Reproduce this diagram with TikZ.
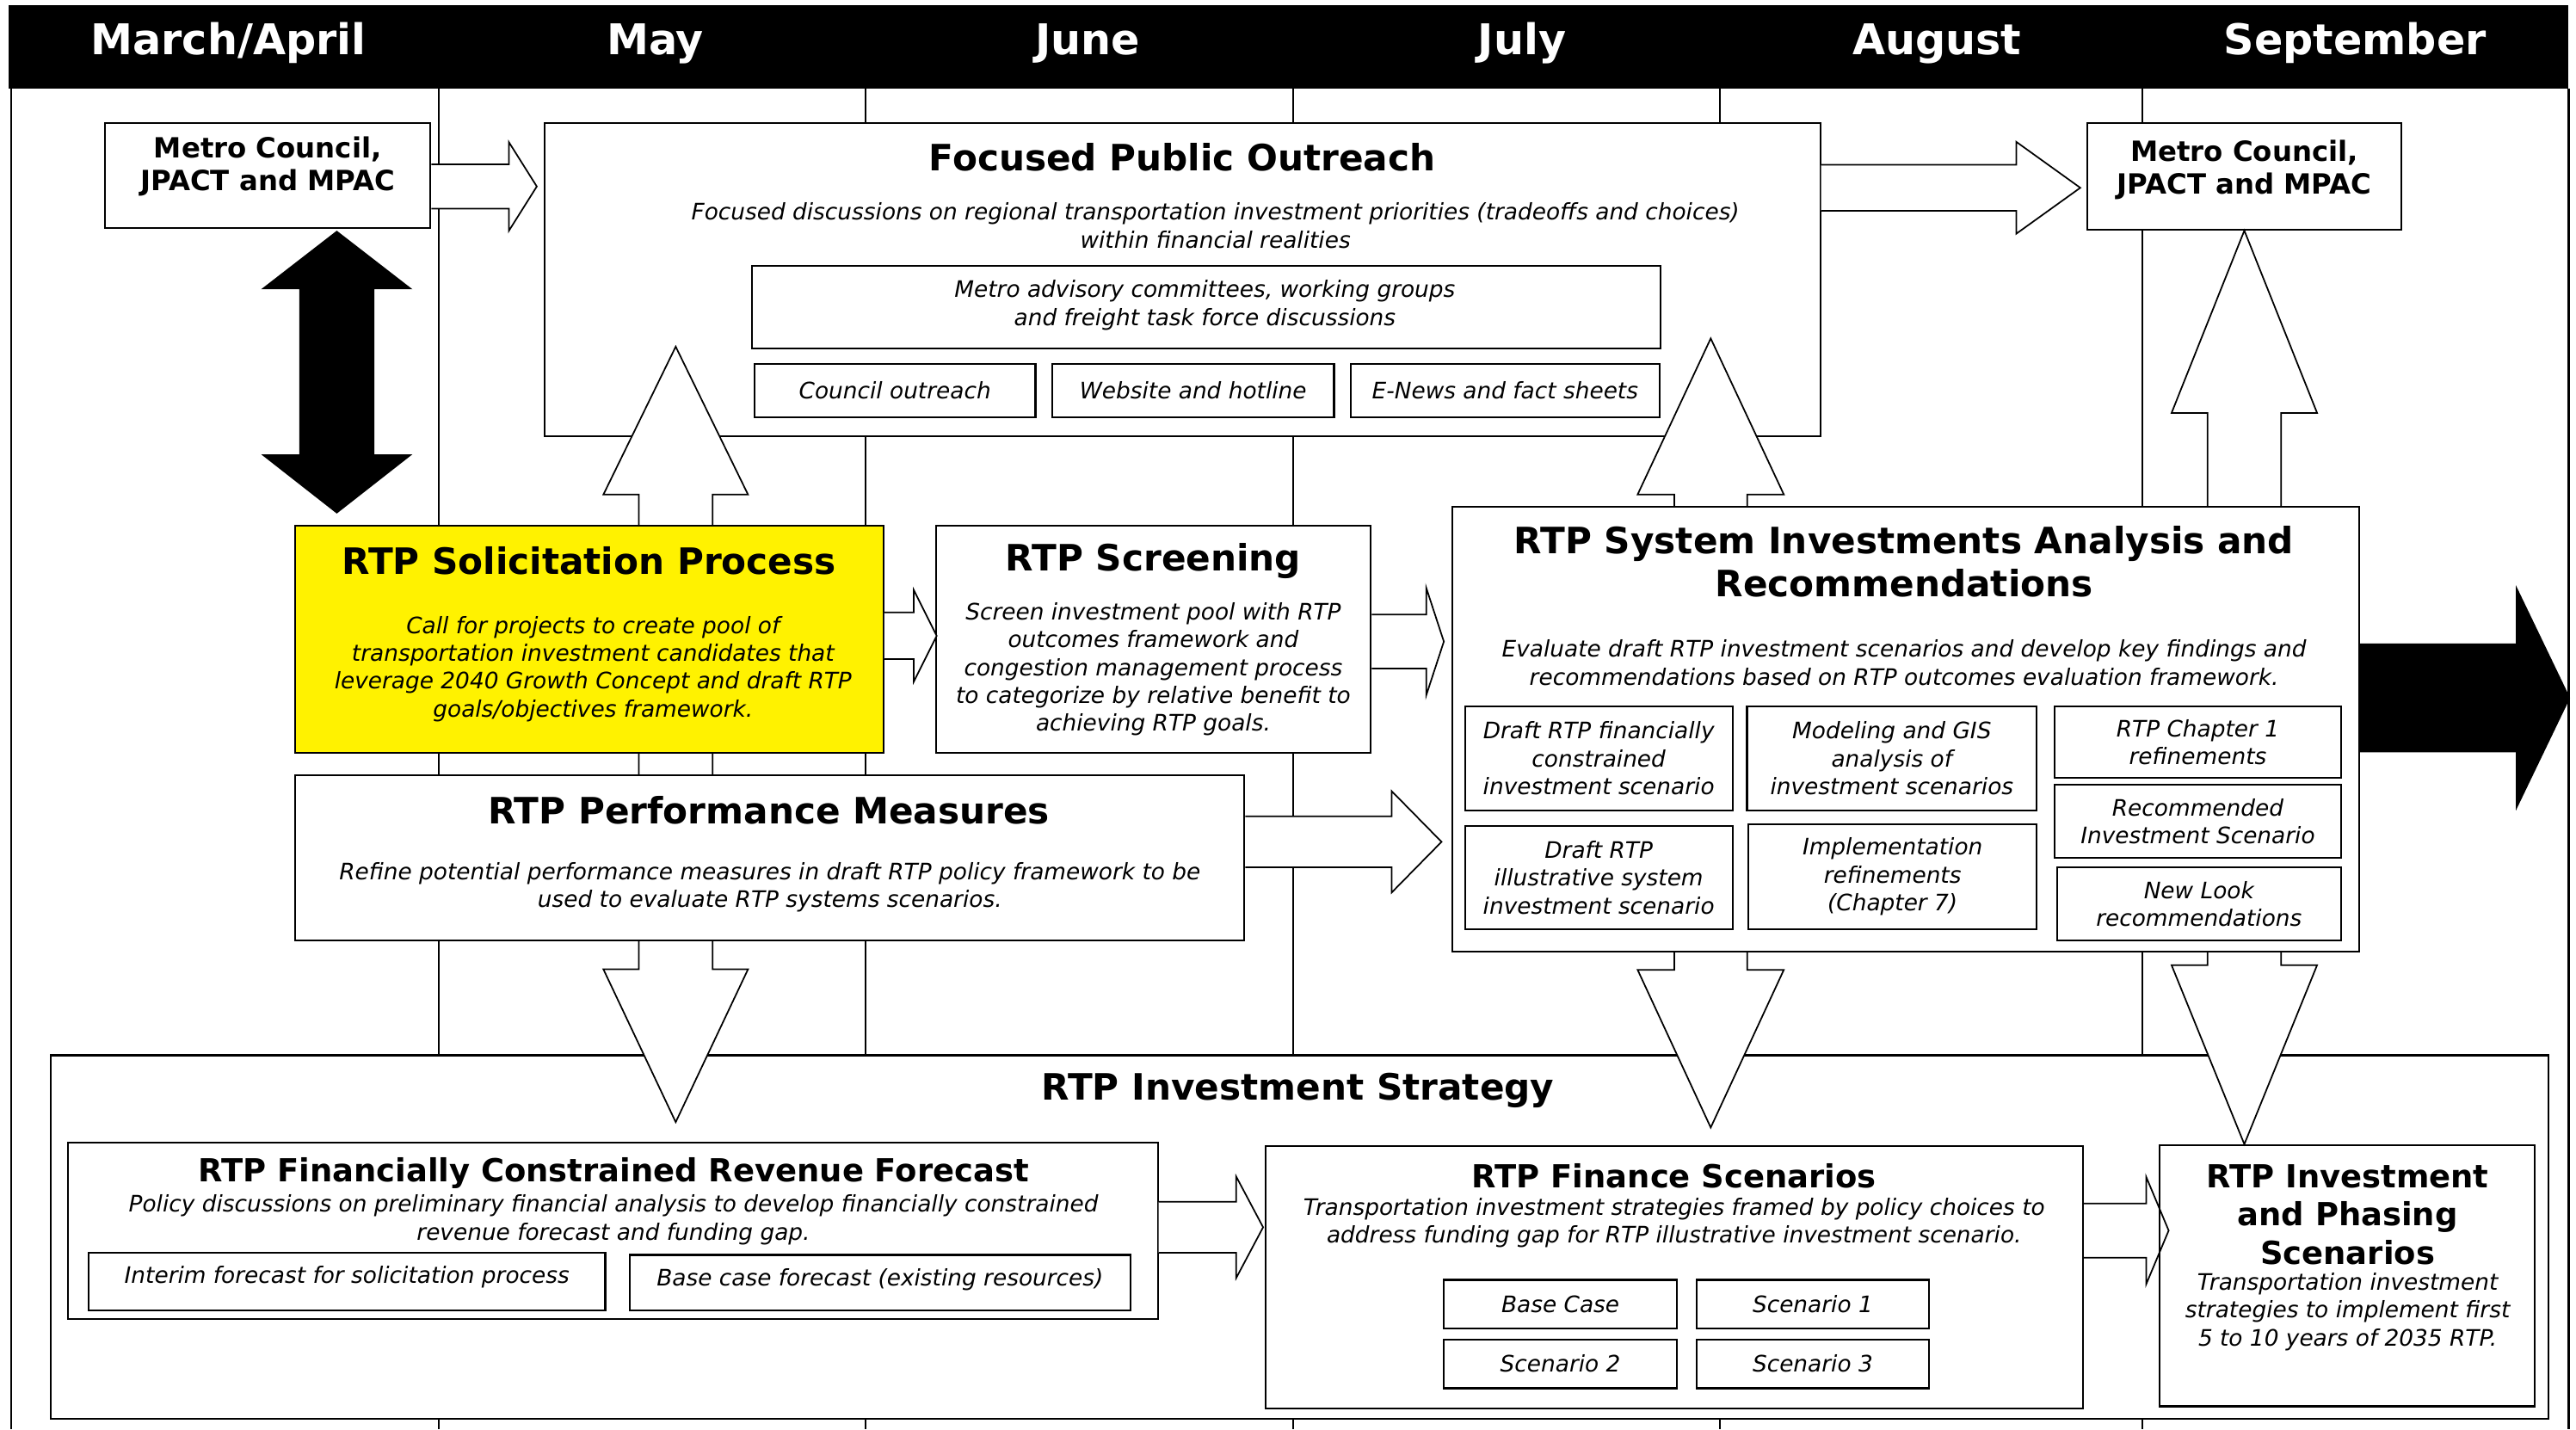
\documentclass[tikz,border=0pt]{standalone}
\usepackage{fontspec}
\setmainfont{DejaVu Sans}[BoldFont={DejaVu Sans Bold},ItalicFont={DejaVu Sans Oblique},BoldItalicFont={DejaVu Sans Bold Oblique}]
\usetikzlibrary{calc,fit}

\tikzset{
  hdrtext/.style={text=white, anchor=base, font=\fontsize{14}{17}\selectfont\bfseries},
  bigtitle/.style={align=center, font=\fontsize{12}{14.1}\selectfont\bfseries},
  midtitle/.style={align=center, font=\fontsize{10.5}{12.7}\selectfont\bfseries},
  mctext/.style={align=center, font=\fontsize{9.2}{10.8}\selectfont\bfseries},
  body/.style={align=center, font=\fontsize{7.5}{9.2}\selectfont\itshape},
  box/.style={draw, line width=0.6pt, fill=white, inner sep=0pt},
  blockarr/.style={draw, line width=0.5pt, line join=miter},
  gridline/.style={line width=0.6pt}
}

% right block arrow: [fill]{from}{to}{y}{shaft half}{head half}{head length}{tip shift}
\newcommand\rarrow[8][white]{%
  \coordinate (ra-s) at (#2 |- 0,#4);
  \coordinate (ra-e) at ($(#3 |- 0,#4)+(#8,0)$);
  \draw[blockarr, fill=#1] ($(ra-s)+(0,-#5)$) -- ($(ra-e)+(-#7,-#5)$) -- ($(ra-e)+(-#7,-#6)$) -- (ra-e)
    -- ($(ra-e)+(-#7,#6)$) -- ($(ra-e)+(-#7,#5)$) -- ($(ra-s)+(0,#5)$);
}
% vertical double block arrow: [fill]{top tip}{bottom tip}{shaft half}{head half}{top head}{bottom head}
\newcommand\vdarrow[7][white]{%
  \draw[blockarr, fill=#1] (#2) -- ($(#2)+(#5,#6)$) -- ($(#2)+(#4,#6)$) -- ($(#3)+(#4,-#7)$) -- ($(#3)+(#5,-#7)$)
    -- (#3) -- ($(#3)+(-#5,-#7)$) -- ($(#3)+(-#4,-#7)$) -- ($(#2)+(-#4,#6)$) -- ($(#2)+(-#5,#6)$) -- cycle;
}

\begin{document}
\begin{tikzpicture}[x=0.019094cm, y=-0.019094cm]
\useasboundingbox (0,0) rectangle (1568,870);

% months
\node[fill=black, inner sep=0pt, fit={(5,3) (1563.5,54)}] (hdr) {};
\foreach \m/\x [count=\i] in {{March/April}/139, May/398.8, June/662, July/926.5, August/1179, September/1433.5}
  \node[hdrtext] (mon\i) at (\x,33) {\m};

% frame and month lines
\draw[gridline] (6.6,54) -- (6.6,870);
\draw[gridline] (1563.5,54) -- (1563.5,870);
\foreach \x in {267,527,787,1047,1304}
  \draw[gridline] (\x,54) -- (\x,870);

% public outreach
\node[box, fit={(331.3,75) (1108,265.4)}] (fpo) {};
\node[bigtitle] (fpoT) at (719.7,95.5) {Focused Public Outreach};
\node[body] (fpoB) at (739.8,137.3) {Focused discussions on regional transportation investment priorities (tradeoffs and choices)\\within financial realities};
\node[box, fit={(457.7,161.8) (1010.6,212.3)}] (adv) {};
\node[body] (advT) at (733.4,185.8) {Metro advisory committees, working groups\\and freight task force discussions};
\node[box, fit={(459.2,221.7) (630.3,253.8)}] (cou) {};
\node[body] (couT) at (cou) {Council outreach};
\node[box, fit={(640.5,221.7) (812,253.8)}] (web) {};
\node[body] (webT) at (web) {Website and hotline};
\node[box, fit={(822.2,221.7) (1010.1,253.8)}] (news) {};
\node[body] (newsT) at (news) {E-News and fact sheets};

% council boxes
\node[box, fit={(64,75) (262,139)}] (mcL) {};
\node[mctext] (mcLT) at (163,101.5) {Metro Council,\\JPACT and MPAC};
\node[box, fit={(1270.6,74.7) (1461.6,139.8)}] (mcR) {};
\node[mctext] (mcRT) at (1366.1,103.4) {Metro Council,\\JPACT and MPAC};

% investment strategy
\node[box, fit={(31,642.3) (1551,863.8)}] (inv) {};
\node[bigtitle] (invT) at (790,664) {RTP Investment Strategy};
\node[box, fit={(41.6,695.3) (704.7,803)}] (fc) {};
\node[midtitle] (fcT) at (373.4,714) {RTP Financially Constrained Revenue Forecast};
\node[body] (fcB) at (373.4,742.4) {Policy discussions on preliminary financial analysis to develop financially constrained\\revenue forecast and funding gap.};
\node[box, fit={(54.1,762.5) (368.4,797.5)}] (fcI) {};
\node[body] (fcIT) at (211.2,777.3) {Interim forecast for solicitation process};
\node[box, fit={(383.4,763.8) (688.1,797.5)}] (fcC) {};
\node[body] (fcCT) at (535.7,779) {Base case forecast (existing resources)};
\node[box, fit={(770.4,697.5) (1267.8,857.2)}] (fs) {};
\node[midtitle] (fsT) at (1019,716) {RTP Finance Scenarios};
\node[body] (fsB) at (1019,744.4) {Transportation investment strategies framed by policy choices to\\address funding gap for RTP illustrative investment scenario.};
\node[box, fit={(879,779) (1020.6,808.5)}] (sBase) {};
\node[body] (sBaseT) at (sBase) {Base Case};
\node[box, fit={(1032.6,779) (1174.2,808.5)}] (sOne) {};
\node[body] (sOneT) at (sOne) {Scenario 1};
\node[box, fit={(879,815.3) (1020.6,845)}] (sTwo) {};
\node[body] (sTwoT) at (sTwo) {Scenario 2};
\node[box, fit={(1032.6,815.3) (1174.2,845)}] (sThree) {};
\node[body] (sThreeT) at (sThree) {Scenario 3};
\node[box, fit={(1314.6,697) (1543,856)}] (ph) {};
\node[midtitle] (phT) at (1429,739.3) {RTP Investment\\and Phasing\\Scenarios};
\node[body] (phB) at (1429,798.5) {Transportation investment\\strategies to implement first\\5 to 10 years of 2035 RTP.};

% up/down arrows behind the middle row
\coordinate (aTop) at (411.3,211);
\coordinate (aBot) at (411.3,683);
\vdarrow{aTop}{aBot}{22.5}{44}{90}{93}
\coordinate (bTop) at (1041.3,206);
\coordinate (bBot) at (1041.3,686.3);
\vdarrow{bTop}{bBot}{22.2}{44.5}{95}{96}
\coordinate (cTop) at (mcR.south);
\coordinate (cBot) at (ph.north -| mcR.south);
\vdarrow{cTop}{cBot}{22.4}{44.3}{111}{109}
\coordinate (dTop) at (205,141);
\coordinate (dBot) at (205,312);
\vdarrow[black]{dTop}{dBot}{22.4}{44.7}{34.6}{35}

% solicitation, screening, performance
\node[box, fill=yellow, fit={(179.4,320) (537.7,458.3)}] (sol) {};
\node[bigtitle] (solT) at (358.5,341.2) {RTP Solicitation Process};
\node[body] (solB) at (361,407.2) {Call for projects to create pool of\\transportation investment candidates that\\leverage 2040 Growth Concept and draft RTP\\goals/objectives framework.};
\node[box, fit={(569.7,320) (834.4,458.3)}] (scr) {};
\node[bigtitle] (scrT) at (702,341.6) {RTP Screening};
\node[body] (scrB) at (702,407.3) {Screen investment pool with RTP\\outcomes framework and\\congestion management process\\to categorize by relative benefit to\\achieving RTP goals.};
\node[box, fit={(179.4,471.9) (757.4,572.3)}] (perf) {};
\node[bigtitle] (perfT) at (468,493) {RTP Performance Measures};
\node[body] (perfB) at (468.6,540) {Refine potential performance measures in draft RTP policy framework to be\\used to evaluate RTP systems scenarios.};

% system investments analysis
\node[box, fit={(884,308.6) (1436,579.2)}] (sia) {};
\node[bigtitle] (siaT) at (1159,342) {RTP System Investments Analysis and\\Recommendations};
\node[body] (siaB) at (1159,403.3) {Evaluate draft RTP investment scenarios and develop key findings and\\recommendations based on RTP outcomes evaluation framework.};
\node[box, fit={(891.7,430.1) (1054.6,493.1)}] (siaA) {};
\node[body] (siaAT) at (siaA) {Draft RTP financially\\constrained\\investment scenario};
\node[box, fit={(1063.4,430.1) (1239.7,493.1)}] (siaB2) {};
\node[body] (siaB2T) at (siaB2) {Modeling and GIS\\analysis of\\investment scenarios};
\node[box, fit={(1250.8,430.1) (1424.8,473.5)}] (siaC) {};
\node[body] (siaCT) at (siaC) {RTP Chapter 1\\refinements};
\node[box, fit={(891.7,502.7) (1054.6,565.6)}] (siaD) {};
\node[body] (siaDT) at (siaD) {Draft RTP\\illustrative system\\investment scenario};
\node[box, fit={(1064.3,501.7) (1239.7,565.6)}] (siaE) {};
\node[body] (siaET) at (siaE) {Implementation\\refinements\\(Chapter 7)};
\node[box, fit={(1250.8,477.5) (1424.8,522.2)}] (siaF) {};
\node[body] (siaFT) at (siaF) {Recommended\\Investment Scenario};
\node[box, fit={(1252.2,527.9) (1424.8,572.6)}] (siaG) {};
\node[body] (siaGT) at (siaG) {New Look\\recommendations};

% right arrows
\rarrow{mcL.east}{fpo.west}{113.5}{13.5}{27}{17}{-4}
\rarrow{fpo.east}{mcR.west}{114.3}{14}{28}{39}{-3.8}
\rarrow{sol.east}{scr.west}{387}{14.2}{28}{14}{1}
\rarrow{scr.east}{sia.west}{390.5}{16.4}{32.7}{10.7}{-4.6}
\rarrow{perf.east}{sia.west}{512.4}{15.5}{30.8}{30.3}{-6}
\rarrow[black]{sia.east}{hdr.east}{424.8}{32.7}{66.5}{32}{0}
\rarrow{fc.east}{fs.west}{747}{15.5}{30.9}{16.4}{-1}
\rarrow[none]{fs.east}{ph.west}{749}{16.5}{32.7}{13.7}{6}
\end{tikzpicture}
\end{document}
